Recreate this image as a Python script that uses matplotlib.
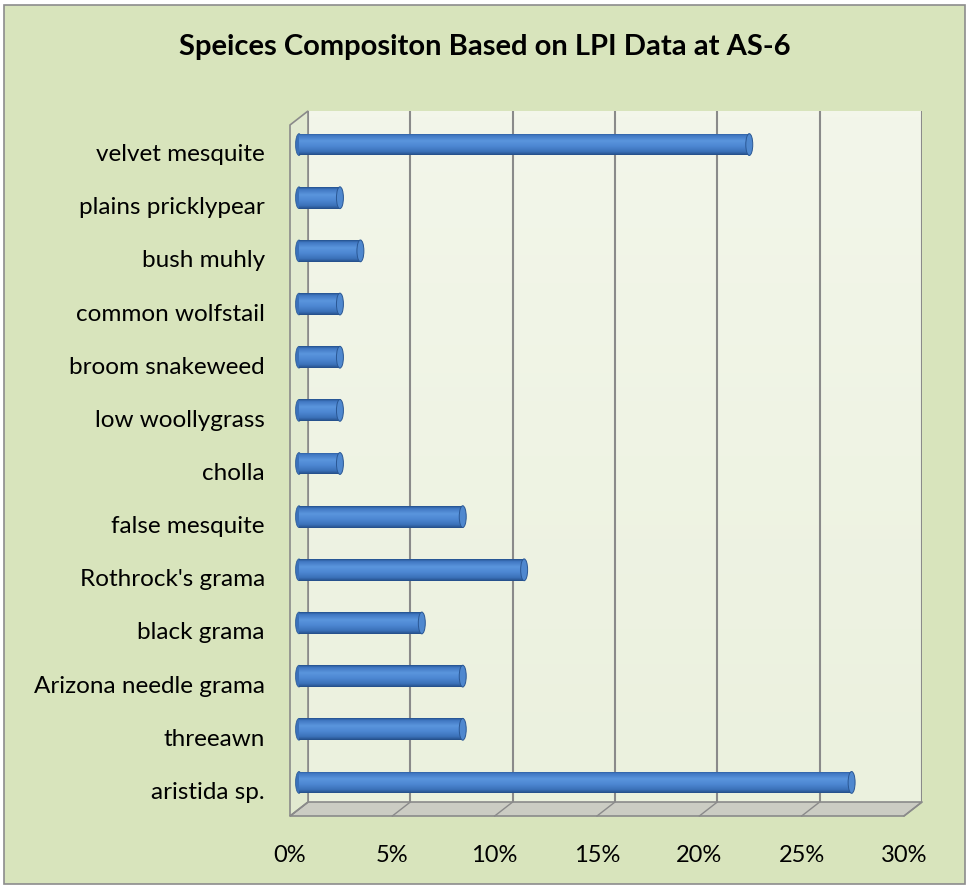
import numpy as np
import matplotlib.pyplot as plt
from matplotlib.colors import LinearSegmentedColormap
from matplotlib.patches import Rectangle, Polygon, Ellipse
from matplotlib.transforms import ScaledTranslation, IdentityTransform

plt.rcParams['font.family'] = ['Lato', 'DejaVu Sans']

# data (top to bottom as shown)
species = ["velvet mesquite", "plains pricklypear", "bush muhly", "common wolfstail",
           "broom snakeweed", "low woollygrass", "cholla", "false mesquite",
           "Rothrock's grama", "black grama", "Arizona needle grama", "threeawn",
           "aristida sp."]
share = [22, 2, 3, 2, 2, 2, 2, 8, 11, 6, 8, 8, 27]
xticks = [0, 5, 10, 15, 20, 25, 30]
xlabels = ["0%", "5%", "10%", "15%", "20%", "25%", "30%"]
title = "Speices Compositon Based on LPI Data at AS-6"

W, H = 970, 888
fig = plt.figure(figsize=(W / 100, H / 100), dpi=100)
fig.patch.set_facecolor("white")
fig.patches.append(Rectangle((4, 4), W - 9, H - 9, transform=IdentityTransform(),
                             facecolor="#d8e4bc", edgecolor="#8c8c8c", lw=1.2, zorder=-5))

# axes = back wall of the 3d box
ax = fig.add_axes([308 / W, (H - 802) / H, 614 / W, 691 / H])
ax.set_xlim(0, 30)
ax.set_ylim(len(species) - 0.5, -0.5)
ax.set_xticks([])
ax.set_yticks([])
for s in ax.spines.values():
    s.set_visible(False)
ax.set_facecolor("none")

ybot = len(species) - 0.5
ytop = -0.5

# wall gradient
grad = np.linspace(0, 1, 100).reshape(-1, 1)
wall_cmap = LinearSegmentedColormap.from_list("w", ["#f3f6ea", "#ebf1de"])
ax.imshow(grad, extent=(0, 30, ybot, ytop), aspect="auto", cmap=wall_cmap, zorder=0)

dpi = fig.dpi
depth = (-18, -14)  # px offset of front plane
mid = ax.transData + ScaledTranslation(depth[0] / 2 / dpi, depth[1] / 2 / dpi, fig.dpi_scale_trans)


def px(x, y, dx=0, dy=0):
    p = ax.transData.transform((x, y))
    return (p[0] + dx, p[1] + dy)


grid_c = "#8a8a8a"

# floor
floor = [px(0, ybot), px(30, ybot), px(30, ybot, *depth), px(0, ybot, *depth)]
ax.add_patch(Polygon(floor, closed=True, transform=IdentityTransform(), clip_on=False,
                     facecolor="#cbccc3", edgecolor=grid_c, lw=1.2, zorder=1))
# left side wall
side = [px(0, ytop), px(0, ybot), px(0, ybot, *depth), px(0, ytop, *depth)]
ax.add_patch(Polygon(side, closed=True, transform=IdentityTransform(), clip_on=False,
                     facecolor="#e2ead0", edgecolor=grid_c, lw=1.2, zorder=1))

# gridlines on wall and floor
ax.vlines(xticks, ytop, ybot, colors=grid_c, lw=1.5, zorder=1)
for t in xticks:
    a, b = px(t, ybot), px(t, ybot, *depth)
    ax.add_line(plt.Line2D([a[0], b[0]], [a[1], b[1]], transform=IdentityTransform(),
                           clip_on=False, color=grid_c, lw=1.0, zorder=2))

# cylinder bars
ypos = np.arange(len(species))
h = 0.41
cyl_cmap = LinearSegmentedColormap.from_list(
    "cyl", [(0.0, "#24518e"), (0.1, "#4077c2"), (0.35, "#5a95dd"), (0.6, "#4d87d2"),
            (0.85, "#3b71b9"), (1.0, "#244e88")])
cyl_grad = np.linspace(0, 1, 64).reshape(-1, 1)
bars = ax.barh(ypos, share, height=h, left=0, color="#4279c2", transform=mid,
               zorder=3, lw=0, clip_on=False)
cap_w = 0.34
for y, v, bar in zip(ypos, share, bars):
    im = ax.imshow(cyl_grad, extent=(0, v, y + h / 2, y - h / 2), aspect="auto",
                   cmap=cyl_cmap, transform=mid, zorder=3.1, interpolation="bilinear")
    im.set_clip_path(bar)
    ax.add_patch(Ellipse((0, y), cap_w, h, transform=mid, facecolor="#3b71b9",
                         edgecolor="#2a5794", lw=0.5, zorder=2.9, clip_on=False))
    ax.add_patch(Ellipse((v, y), cap_w, h, transform=mid, facecolor="#4f88cf",
                         edgecolor="#2a5794", lw=0.7, zorder=4, clip_on=False))
ax.set_xlim(0, 30)
ax.set_ylim(ybot, ytop)

# category labels
lab_tr = mid + ScaledTranslation(-34 / dpi, -10 / dpi, fig.dpi_scale_trans)
for y, name in zip(ypos, species):
    ax.text(0, y, name, transform=lab_tr, ha="right", va="center", fontsize=17.5,
            color="black")

# value axis labels (front plane)
front = ax.transData + ScaledTranslation(depth[0] / dpi, (depth[1] - 39) / dpi, fig.dpi_scale_trans)
for t, lab in zip(xticks, xlabels):
    ax.text(t, ybot, lab, transform=front, ha="center", va="center", fontsize=17,
            color="black")

fig.text(0.5, 1 - 47 / H, title, ha="center", va="center", fontsize=21, fontweight="bold")

fig.savefig("out.png", dpi=100)
